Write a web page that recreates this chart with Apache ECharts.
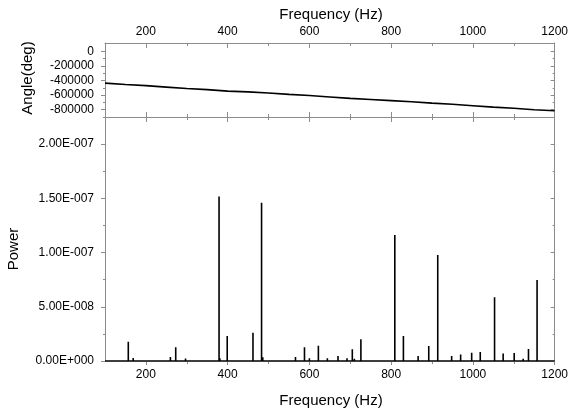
<!DOCTYPE html>
<html>
<head>
<meta charset="utf-8">
<script src="https://cdn.jsdelivr.net/npm/echarts@6/dist/echarts.min.js"></script>
<style>html,body{margin:0;padding:0;background:#fff}#c{width:571px;height:411px}</style>
</head>
<body>
<div id="c"></div>
<script>
// ---- data ----
const angleFreq = [100,150,200,250,300,350,400,450,500,550,600,650,700,750,800,850,900,950,1000,1050,1100,1150,1200];
const angleDeg  = [-435000,-455000,-470000,-490000,-510000,-525000,-545000,-555000,-570000,-590000,-605000,-625000,-645000,-660000,-675000,-690000,-710000,-725000,-745000,-765000,-780000,-800000,-815000];

const spikeFreq = [112,120,130,140,150,157,169,180,190,200,240,250,260,273,286,297,315,337,379,381,399,427,435,462,483,486,501,520,530,540,550,558,566,572,588,600,610,622,644,655,670,677,692,705,710,726,740,760,782,809,830,841,856,866,892,914,925,935,948,958,970,980,997,1008,1018,1029,1040,1053,1062,1074,1088,1101,1110,1123,1136,1145,1157,1170,1185,1195];
const spikePower = [1.0e-9,0.8e-9,1.0e-9,1.2e-9,1.0e-9,1.78e-8,2.7e-9,1.2e-9,0.8e-9,0.8e-9,1.5e-9,1.0e-9,3.8e-9,1.26e-8,1.2e-9,2.2e-9,0.8e-9,1.0e-9,1.516e-7,2.5e-9,2.3e-8,1.0e-9,1.0e-9,2.61e-8,1.46e-7,3.4e-9,1.0e-9,1.0e-9,1.0e-9,1.2e-9,1.2e-9,1.5e-9,3.7e-9,1.5e-9,1.26e-8,2.6e-9,1.2e-9,1.41e-8,2.5e-9,1.5e-9,4.6e-9,1.2e-9,2.5e-9,1.08e-8,2.0e-9,2.0e-8,1.0e-9,1.0e-9,1.0e-9,1.162e-7,2.3e-8,1.0e-9,1.2e-9,4.5e-9,1.38e-8,9.78e-8,1.0e-9,1.2e-9,4.5e-9,1.2e-9,6.1e-9,1.0e-9,7.7e-9,1.0e-9,8.3e-9,1.3e-9,1.0e-9,5.88e-8,1.0e-9,7.0e-9,1.0e-9,7.4e-9,1.2e-9,2.0e-9,1.1e-8,1.0e-9,7.47e-8,1.2e-9,1.0e-9,1.0e-9];

const freqLabels = [200,400,600,800,1000,1200];
const freqMinor = [300,500,700,900,1100];
const angleLabels = [0,-200000,-400000,-600000,-800000];
const angleMinor = [-100000,-300000,-500000,-700000,-900000];
const powerLabels = [0,5e-8,1e-7,1.5e-7,2e-7];
const powerMinor = [2.5e-8,7.5e-8,1.25e-7,1.75e-7];

// ---- build ----
const AX = '#8c8c8c';
const FONT = 'Liberation Sans, Arial, sans-serif';

function fmtPow(v){
  if (v === 0) return '0.00E+000';
  const s = v.toExponential(2);
  const m = s.split('e');
  const e = parseInt(m[1],10);
  const sign = e < 0 ? '-' : '+';
  return m[0] + 'E' + sign + String(Math.abs(e)).padStart(3,'0');
}

function axis(opts){
  const o = {
    type:'value', gridIndex:opts.grid, position:opts.pos, min:opts.min, max:opts.max,
    scale:true, splitLine:{show:false},
    axisLine:{show:!!opts.line, onZero:false, lineStyle:{color:AX,width:1}},
    axisTick:{show:true, inside:!!opts.inside, length:opts.len, customValues:opts.ticks, lineStyle:{color:AX,width:1}},
    axisLabel:{show:!!opts.labels, customValues:opts.labels||[], margin:opts.margin||8, color:'#000', fontSize:12, fontFamily:FONT, formatter:opts.fmt},
    silent:true
  };
  return o;
}

const xAxes = [
  axis({grid:0,pos:'top',min:100,max:1200,line:true,inside:true,len:5,ticks:freqLabels,labels:freqLabels,margin:5,fmt:v=>String(v)}),
  axis({grid:0,pos:'top',min:100,max:1200,inside:true,len:3,ticks:freqMinor}),
  axis({grid:0,pos:'bottom',min:100,max:1200,line:true,inside:true,len:5,ticks:freqLabels}),
  axis({grid:0,pos:'bottom',min:100,max:1200,inside:true,len:3,ticks:freqMinor}),
  axis({grid:1,pos:'top',min:100,max:1200,line:true,inside:true,len:5,ticks:freqLabels}),
  axis({grid:1,pos:'top',min:100,max:1200,inside:true,len:3,ticks:freqMinor}),
  axis({grid:1,pos:'bottom',min:100,max:1200,line:true,inside:false,len:4,ticks:freqLabels,labels:freqLabels,margin:8,fmt:v=>String(v)}),
  axis({grid:1,pos:'bottom',min:100,max:1200,inside:false,len:3,ticks:freqMinor})
];
const yAxes = [
  axis({grid:0,pos:'left',min:-900000,max:115000,line:true,inside:false,len:4,ticks:angleLabels,labels:angleLabels,margin:11,fmt:v=>String(v)}),
  axis({grid:0,pos:'left',min:-900000,max:115000,inside:false,len:2,ticks:angleMinor}),
  axis({grid:0,pos:'right',min:-900000,max:115000,line:true,inside:true,len:4,ticks:angleLabels}),
  axis({grid:0,pos:'right',min:-900000,max:115000,inside:true,len:2,ticks:angleMinor}),
  axis({grid:1,pos:'left',min:0,max:2.25e-7,line:true,inside:false,len:4,ticks:powerLabels,labels:powerLabels,margin:11,fmt:fmtPow}),
  axis({grid:1,pos:'left',min:0,max:2.25e-7,inside:false,len:2,ticks:powerMinor}),
  axis({grid:1,pos:'right',min:0,max:2.25e-7,line:true,inside:true,len:4,ticks:powerLabels}),
  axis({grid:1,pos:'right',min:0,max:2.25e-7,inside:true,len:2,ticks:powerMinor})
];

const angleData = angleFreq.map((f,i)=>[f, angleDeg[i]]);
const specData = [[100,0]];
spikeFreq.forEach((f,i)=>{ specData.push([f,0],[f,spikePower[i]],[f,0]); });
specData.push([1200,0]);

const chart = echarts.init(document.getElementById('c'), null, {renderer:'canvas'});
chart.setOption({
  animation:false,
  backgroundColor:'#fff',
  textStyle:{fontFamily:FONT},
  grid:[
    {left:105, right:14, top:43, height:74},
    {left:105, right:14, top:117, height:244}
  ],
  xAxis:xAxes,
  yAxis:yAxes,
  series:[
    {type:'line', xAxisIndex:0, yAxisIndex:0, data:angleData, showSymbol:false, symbol:'none',
     lineStyle:{color:'#000', width:1.6}, silent:true},
    {type:'line', xAxisIndex:6, yAxisIndex:4, data:specData, showSymbol:false, symbol:'none',
     lineStyle:{color:'#000', width:1.6}, silent:true}
  ],
  graphic:[
    {type:'text', x:331, y:15, style:{text:'Frequency (Hz)', font:'15px '+FONT, fill:'#000', textAlign:'center', textVerticalAlign:'middle'}},
    {type:'text', x:331, y:401, style:{text:'Frequency (Hz)', font:'15px '+FONT, fill:'#000', textAlign:'center', textVerticalAlign:'middle'}},
    {type:'text', x:13.5, y:249, rotation:Math.PI/2, style:{text:'Power', font:'15px '+FONT, fill:'#000', textAlign:'center', textVerticalAlign:'middle'}},
    {type:'text', x:28, y:78, rotation:Math.PI/2, style:{text:'Angle(deg)', font:'15px '+FONT, fill:'#000', textAlign:'center', textVerticalAlign:'middle'}}
  ]
});
</script>
</body>
</html>
